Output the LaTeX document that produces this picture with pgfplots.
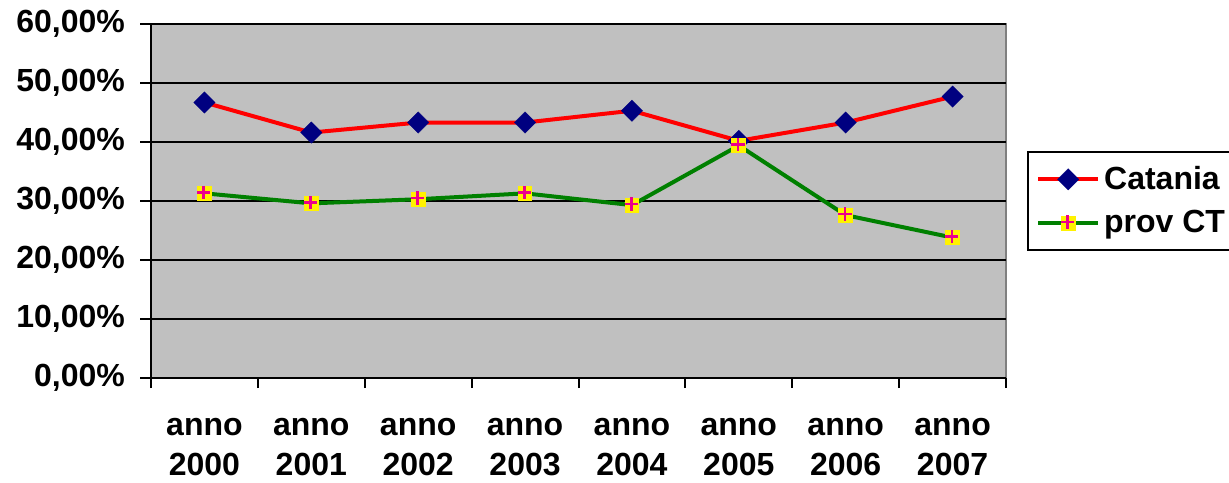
\documentclass[border=0pt]{standalone}
\usepackage{pgfplots}
\pgfplotsset{compat=1.18}
\usepackage{fontspec}
\setmainfont{Liberation Sans}

\definecolor{plotbg}{RGB}{192,192,192}
\definecolor{navyc}{RGB}{0,0,128}
\definecolor{greenc}{RGB}{0,128,0}
\definecolor{redc}{RGB}{255,0,0}

% yellow square with a magenta plus on top
\pgfdeclareplotmark{sqplus}{%
  \pgfsetfillcolor{yellow}%
  \pgfpathrectangle{\pgfqpoint{-\pgfplotmarksize}{-\pgfplotmarksize}}{\pgfqpoint{2\pgfplotmarksize}{2\pgfplotmarksize}}%
  \pgfusepath{fill}%
  \pgfsetstrokecolor{magenta}%
  \pgfsetlinewidth{1.3pt}%
  \pgfpathmoveto{\pgfqpoint{-1.0\pgfplotmarksize}{0.15\pgfplotmarksize}}%
  \pgfpathlineto{\pgfqpoint{0.8\pgfplotmarksize}{0.15\pgfplotmarksize}}%
  \pgfpathmoveto{\pgfqpoint{-0.1\pgfplotmarksize}{-0.75\pgfplotmarksize}}%
  \pgfpathlineto{\pgfqpoint{-0.1\pgfplotmarksize}{1.05\pgfplotmarksize}}%
  \pgfusepath{stroke}%
}

\newcommand{\lblfont}{\bfseries\fontsize{16}{20}\selectfont}

\begin{document}
\begin{tikzpicture}
\begin{axis}[
  name=ax,
  scale only axis,
  width=427.5pt, height=177pt,
  xmin=-0.5, xmax=7.5,
  ymin=0, ymax=60,
  axis x line*=bottom,
  axis y line*=left,
  axis line style={black, line width=1.1pt},
  axis background/.style={fill=plotbg, draw=gray, line width=0.8pt},
  clip=false,
  xtick={0,...,7},
  xticklabels={{anno\\2000},{anno\\2001},{anno\\2002},{anno\\2003},{anno\\2004},{anno\\2005},{anno\\2006},{anno\\2007}},
  major x tick style={draw=none},
  minor xtick={-0.5,0.5,...,7.5},
  minor tick length=5pt,
  minor x tick style={black, line width=1pt},
  ytick={0,10,...,60},
  yticklabels={{0,00\%},{10,00\%},{20,00\%},{30,00\%},{40,00\%},{50,00\%},{60,00\%}},
  major y tick style={black, line width=1pt},
  major tick length=5.5pt,
  tick align=outside,
  ymajorgrids,
  major grid style={black, line width=1pt},
  ticklabel style={font=\lblfont},
  xticklabel style={align=center, yshift=-11pt},
  yticklabel style={xshift=-4pt},
  legend style={at={(1.025,0.5)}, anchor=west, draw=black, line width=0.8pt,
    fill=white, font=\lblfont, row sep=5pt, inner xsep=4pt, inner ysep=5pt},
  legend cell align=left,
  legend image code/.code={%
    \draw[mark repeat=2, mark phase=2] plot coordinates {(0pt,0pt) (15pt,0pt) (30pt,0pt)};},
]
\addplot[redc, line width=2pt, mark=square*, mark size=3.8pt,
  mark options={rotate=45, solid, fill=navyc, draw=navyc, line width=0.1pt}]
  coordinates {
  (0,46.7) (1,41.6) (2,43.3) (3,43.3) (4,45.3) (5,40.2) (6,43.3) (7,47.7)
  };
\addlegendentry{Catania}
\addplot[greenc, line width=2pt, mark=sqplus, mark size=3.7pt]
  coordinates {
  (0,31.3) (1,29.6) (2,30.3) (3,31.3) (4,29.3) (5,39.4) (6,27.6) (7,23.8)
  };
\addlegendentry{prov CT}
\end{axis}
\pgfresetboundingbox
\path ([xshift=-75.5pt,yshift=-52pt]ax.south west) rectangle ([xshift=111.5pt,yshift=12pt]ax.north east);
\end{tikzpicture}
\end{document}
